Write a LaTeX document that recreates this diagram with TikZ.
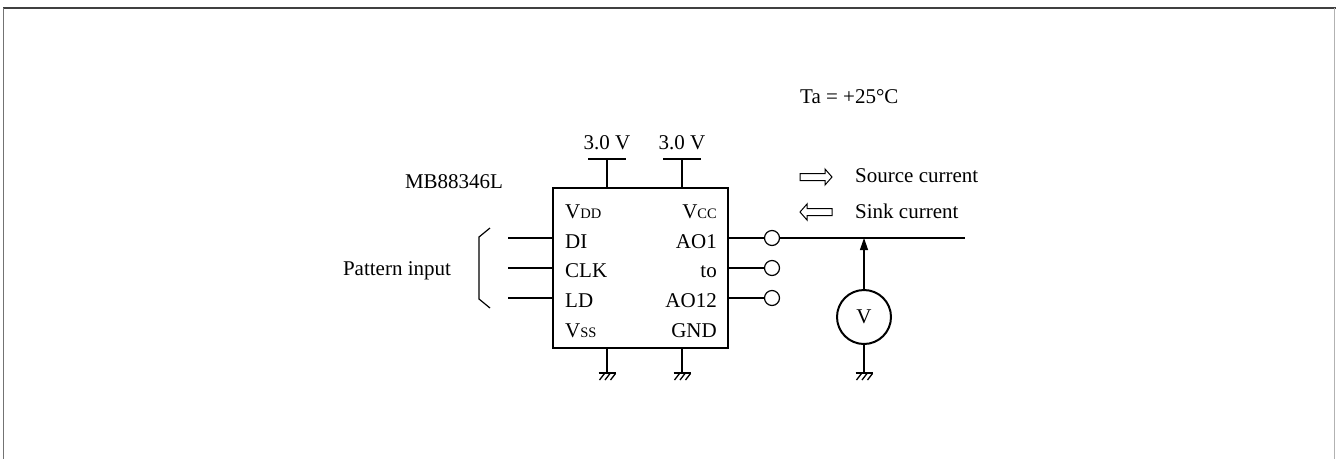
\documentclass[tikz,border=0pt]{standalone}
\usepackage{fontspec}
\setmainfont{Liberation Serif}
\usetikzlibrary{arrows.meta}
\tikzset{
  x=1pt, y=-1pt,
  wire/.style={line width=1.2pt},
  lbl/.style={inner sep=0pt, font=\fontsize{21}{25}\selectfont},
  pinc/.style={circle, draw, line width=1.2pt, minimum size=15pt, inner sep=0pt, fill=white},
  gnd/.pic={
    \draw[line width=1.4pt] (-8.5,0) -- (8.5,0);
    \foreach \h in {-5.5,0,5.5} \draw[line width=1.3pt] (\h+3,0.5) -- (\h-2,7);
  }
}
\newcommand{\sub}[1]{{\fontsize{14.5}{16}\selectfont #1}}
\begin{document}
\begin{tikzpicture}
\useasboundingbox (0,0) rectangle (1336,459);
% frame
\draw[line width=1.5pt, black!75] (3,8) -- (1336,8);
\draw[line width=1pt, black!55] (3.5,8) -- (3.5,459);
\draw[line width=1pt, black!30] (1334.5,8) -- (1334.5,459);

% IC box
\node[draw, line width=2.8pt, minimum width=175pt, minimum height=160pt, inner sep=0pt] (ic) at (640.5,268) {};
\node[lbl, anchor=base] (mb) at (454,188) {MB88346L};

% inside labels
\node[lbl, anchor=base west] (vdd) at (565,218) {V\sub{DD}};
\node[lbl, anchor=base west] (di) at (565,248) {DI};
\node[lbl, anchor=base west] (clk) at (565,277) {CLK};
\node[lbl, anchor=base west] (ld) at (565,307) {LD};
\node[lbl, anchor=base west] (vss) at (565,337) {V\sub{SS}};
\node[lbl, anchor=base east] (vcc) at (717,218) {V\sub{CC}};
\node[lbl, anchor=base east] (ao1) at (717,248) {AO1};
\node[lbl, anchor=base east] (to) at (717,277) {to};
\node[lbl, anchor=base east] (ao12) at (717,307) {AO12};
\node[lbl, anchor=base east] (gndl) at (717,337) {GND};

% supplies
\coordinate (s1) at (607,159);
\coordinate (s2) at (682,159);
\draw[wire] (s1) -- (607,188);
\draw[wire] (s2) -- (682,188);
\draw[wire] (588,159) -- (626,159);
\draw[wire] (663,159) -- (701,159);
\node[lbl, anchor=base] (v1) at (607,149) {3.0 V};
\node[lbl, anchor=base] (v2) at (682,149) {3.0 V};

% grounds under IC
\coordinate (g1) at (607,373);
\coordinate (g2) at (682,373);
\draw[wire] (607,348) -- (g1);
\draw[wire] (682,348) -- (g2);
\pic at (g1) {gnd};
\pic at (g2) {gnd};

% input pins
\foreach \yy/\nm in {238/a,268/b,298/c}{
  \coordinate (in\nm) at (508,\yy);
  \draw[wire] (in\nm) -- (553,\yy);
}
% bracket
\draw[wire] (490,228) -- (479,237) -- (479,299) -- (490,308);
\node[lbl, anchor=base] (pat) at (397,275) {Pattern input};

% output pins
\node[pinc] (o1) at (772,238) {};
\node[pinc] (o2) at (772,268) {};
\node[pinc] (o3) at (772,298) {};
\draw[wire] (728,238) -- (o1.west);
\draw[wire] (728,268) -- (o2.west);
\draw[wire] (728,298) -- (o3.west);
\coordinate (rend) at (965,238);
\coordinate (j) at (864,238);
\draw[wire] (o1.east) -- (rend);

% voltmeter
\node[circle, draw, line width=2pt, minimum size=54pt, inner sep=0pt, lbl] (vm) at (864,317) {V};
\draw[wire, -{Triangle[length=12pt,width=8pt]}] (vm.north) -- (j);
\coordinate (g3) at (864,373);
\draw[wire] (vm.south) -- (g3);
\pic at (g3) {gnd};

% legend
\node[lbl, anchor=base west] (ta) at (800,103) {Ta = +25°C};
\draw[line width=1pt] (800,173.5) -- (825,173.5) -- (825,169) -- (832,177) -- (825,185) -- (825,180.5) -- (800,180.5) -- cycle;
\draw[line width=1pt] (832,208.5) -- (807,208.5) -- (807,204) -- (800,212) -- (807,220) -- (807,215.5) -- (832,215.5) -- cycle;
\node[lbl, anchor=base west] (src) at (855,182) {Source current};
\node[lbl, anchor=base west] (snk) at (855,218) {Sink current};
\end{tikzpicture}
\end{document}
